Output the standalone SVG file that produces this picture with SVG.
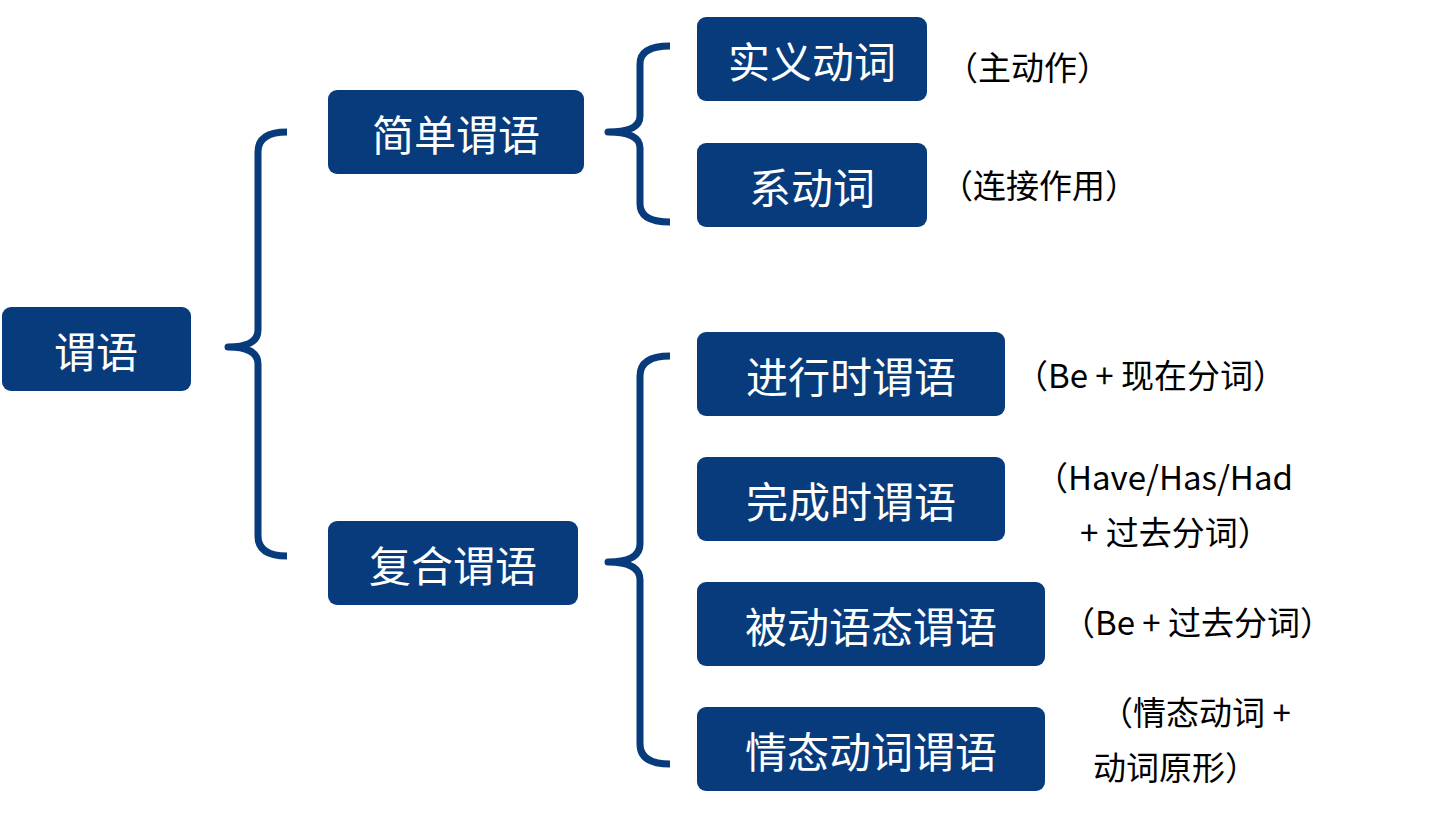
<svg xmlns="http://www.w3.org/2000/svg" width="1440" height="823" viewBox="0 0 1440 823">
<style>
.b{fill:#083b7b}
.t{fill:#fff;font-family:"Noto Sans CJK SC","Noto Sans",sans-serif;font-size:42px;text-anchor:middle;dominant-baseline:central}
.a{fill:#000;font-family:"Noto Sans CJK SC","Noto Sans",sans-serif;font-size:33px}
.br{fill:none;stroke:#083b7b;stroke-width:7;stroke-linejoin:round}
</style>
<rect width="1440" height="823" fill="#fff"/>
<g id="connectors">
<path class="br" d="M287,132 Q258,132 258,152 L258,330 Q258,347 228,347 Q258,347 258,364 L258,536 Q258,556 287,556"/>
<path class="br" d="M670,46 Q640,46 640,64 L640,116 Q640,132 608,132 Q640,132 640,148 L640,204 Q640,222 670,222"/>
<path class="br" d="M670,356 Q640,356 640,376 L640,544 Q640,562 608,562 Q640,562 640,580 L640,744 Q640,764 670,764"/>
</g>
<g id="n0"><rect class="b" x="2" y="307" width="189" height="84" rx="9"/><text class="t" x="96" y="349">谓语</text></g>
<g id="n1"><rect class="b" x="328" y="90" width="256" height="84" rx="9"/><text class="t" x="456" y="132">简单谓语</text></g>
<g id="n2"><rect class="b" x="328" y="521" width="250" height="84" rx="9"/><text class="t" x="453" y="563">复合谓语</text></g>
<g id="n3"><rect class="b" x="697" y="17" width="230" height="84" rx="9"/><text class="t" x="812" y="59">实义动词</text></g>
<g id="n4"><rect class="b" x="697" y="143" width="230" height="84" rx="9"/><text class="t" x="812" y="185">系动词</text></g>
<g id="n5"><rect class="b" x="697" y="332" width="308" height="84" rx="9"/><text class="t" x="851" y="374">进行时谓语</text></g>
<g id="n6"><rect class="b" x="697" y="457" width="308" height="84" rx="9"/><text class="t" x="851" y="499">完成时谓语</text></g>
<g id="n7"><rect class="b" x="697" y="582" width="348" height="84" rx="9"/><text class="t" x="871" y="624">被动语态谓语</text></g>
<g id="n8"><rect class="b" x="697" y="707" width="348" height="84" rx="9"/><text class="t" x="871" y="749">情态动词谓语</text></g>
<g id="notes">
<text class="a" x="945" y="80">（主动作）</text>
<text class="a" x="940" y="198">（连接作用）</text>
<text class="a" x="1015" y="388">（Be + 现在分词）</text>
<text class="a" x="1035" y="490">（Have/Has/Had</text>
<text class="a" x="1080" y="545">+ 过去分词）</text>
<text class="a" x="1062" y="635">（Be + 过去分词）</text>
<text class="a" x="1100" y="725">（情态动词 +</text>
<text class="a" x="1093" y="780">动词原形）</text>
</g>
</svg>
